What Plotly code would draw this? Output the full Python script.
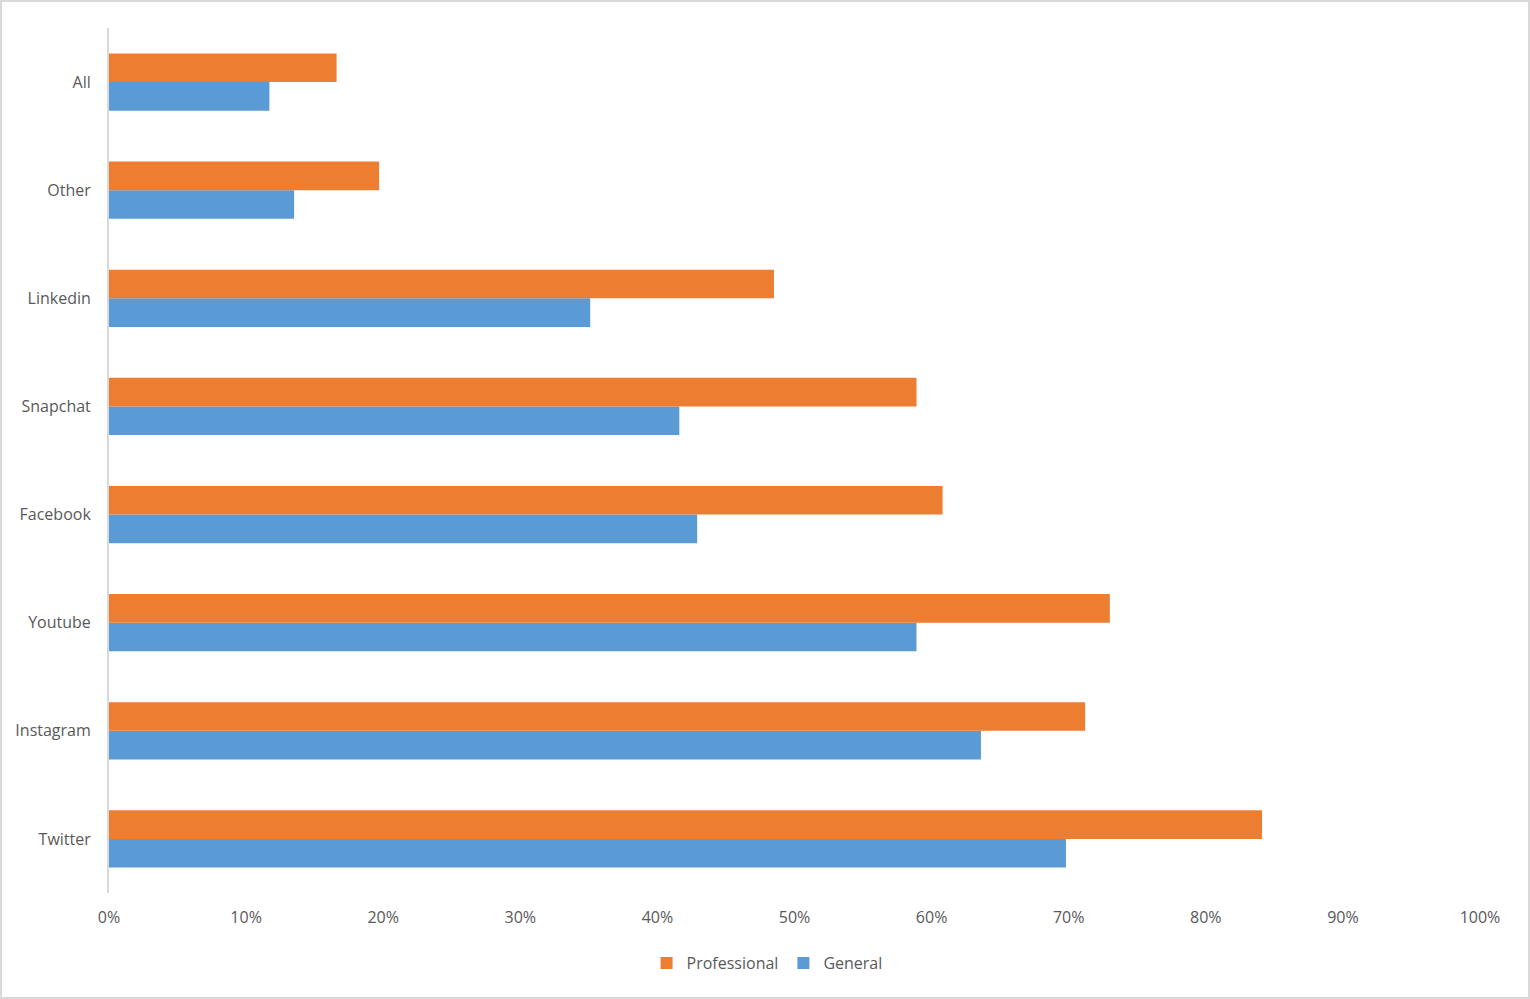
import plotly.graph_objects as go

categories = ["Twitter", "Instagram", "Youtube", "Facebook", "Snapchat", "Linkedin", "Other", "All"]
general = [69.8, 63.6, 58.9, 42.9, 41.6, 35.1, 13.5, 11.7]
professional = [84.1, 71.2, 73.0, 60.8, 58.9, 48.5, 19.7, 16.6]
tick_vals = [0, 10, 20, 30, 40, 50, 60, 70, 80, 90, 100]
tick_text = [f"{v}%" for v in tick_vals]

W, H = 1530, 999
ML, MR, MT, MB = 109, 50, 28, 106

fig = go.Figure()
fig.add_trace(go.Bar(y=categories, x=general, orientation="h", name="General",
                     marker=dict(color="#5B9BD5", line=dict(width=0))))
fig.add_trace(go.Bar(y=categories, x=professional, orientation="h", name="Professional",
                     marker=dict(color="#ED7D31", line=dict(width=0))))

pw = W - ML - MR
ph = H - MT - MB
fig.update_layout(
    width=W, height=H,
    margin=dict(l=ML, r=MR, t=MT, b=MB, pad=0),
    barmode="group", bargap=0.47, bargroupgap=0,
    paper_bgcolor="white", plot_bgcolor="white",
    font=dict(family="Open Sans, Liberation Sans, sans-serif", size=16, color="#595959"),
    showlegend=True,
    legend=dict(orientation="h", traceorder="reversed", x=0.48, xanchor="center",
                y=-0.081, yanchor="middle", font=dict(size=16, color="#595959"),
                itemwidth=30, bgcolor="rgba(0,0,0,0)"),
    xaxis=dict(range=[0, 100], tickvals=tick_vals, ticktext=tick_text, showgrid=False,
               zeroline=False, showline=False, ticks="", ticklen=0, ticklabelstandoff=13,
               tickfont=dict(size=16, color="#595959")),
    yaxis=dict(showline=True, linecolor="#d9d9d9", linewidth=2, ticks="", showgrid=False,
               ticklabelstandoff=13, tickfont=dict(size=16, color="#595959")),
    shapes=[dict(type="rect", xref="paper", yref="paper",
                 x0=-(ML - 1) / pw, x1=1 + (MR - 1) / pw,
                 y0=-(MB - 1) / ph, y1=1 + (MT - 1) / ph,
                 line=dict(color="#d9d9d9", width=2), fillcolor="rgba(0,0,0,0)", layer="below")],
)

fig.write_html("out.html", config={"displayModeBar": False},
               post_script="document.body.style.margin='0';document.body.style.overflow='hidden';")
